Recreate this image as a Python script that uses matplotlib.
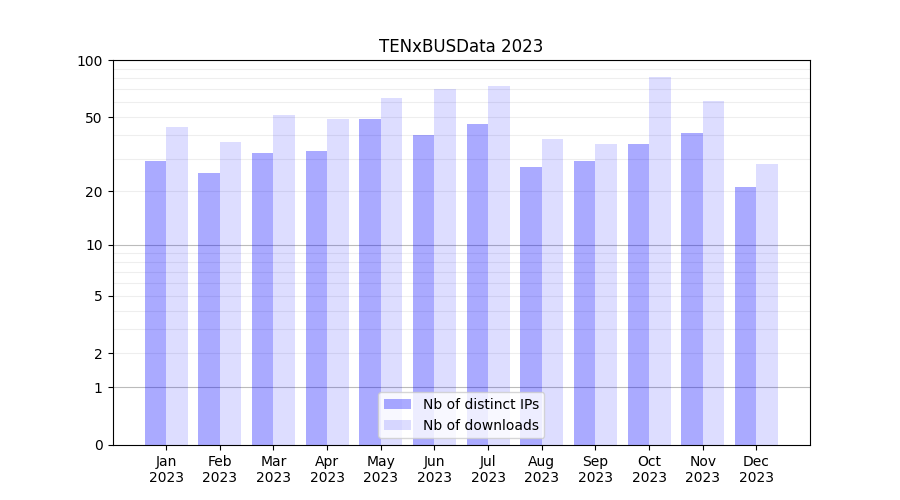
import numpy as np
import matplotlib.pyplot as plt

months = ['Jan', 'Feb', 'Mar', 'Apr', 'May', 'Jun', 'Jul', 'Aug', 'Sep', 'Oct', 'Nov', 'Dec']
year = '2023'
nb_ips = [29, 25, 32, 33, 49, 40, 46, 27, 29, 36, 41, 21]
nb_downloads = [44, 37, 51, 49, 63, 70, 73, 38, 36, 81, 61, 28]
yticks = [0, 1, 2, 5, 10, 20, 50, 100]


def fwd(v):
    return np.log10(np.asarray(v, dtype=float) + 1)


def inv(v):
    return 10 ** np.asarray(v, dtype=float) - 1


fig, ax = plt.subplots(figsize=(9, 5), dpi=100)
ax.set_yscale('function', functions=(fwd, inv))

# lignes de grille
for v in [1, 10, 100]:
    ax.axhline(v, color='#bbbbbb', lw=0.8, zorder=0)
for d in [1, 10]:
    for k in range(2, 10):
        ax.axhline(k * d, color='#eeeeee', lw=0.8, zorder=0)

x = np.arange(1, len(months) + 1)
ax.bar(x - 0.2, nb_ips, width=0.4, color='blue', alpha=0.333, label='Nb of distinct IPs', zorder=2)
ax.bar(x + 0.2, nb_downloads, width=0.4, color='blue', alpha=0.133, label='Nb of downloads', zorder=2)

ax.set_xlim(0, 13)
ax.set_ylim(0, 100)
ax.set_yticks(yticks)
ax.set_yticklabels([str(t) for t in yticks])
ax.yaxis.set_minor_locator(plt.NullLocator())
ax.set_xticks(x)
ax.set_xticklabels([m + '\n' + year for m in months])
ax.set_title('TENxBUSData 2023')
ax.legend(loc='lower center')

fig.savefig('out.png')
